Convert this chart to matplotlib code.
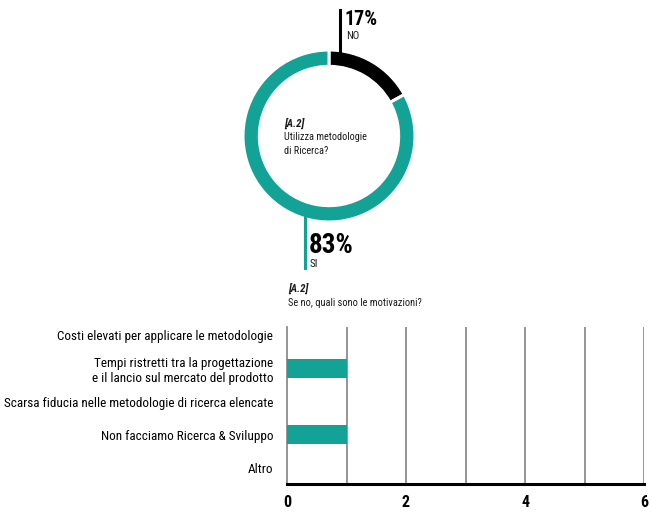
import matplotlib
matplotlib.use('Agg')
import matplotlib.pyplot as plt

plt.rcParams['font.family'] = ['Roboto Condensed', 'Archivo Narrow', 'PT Sans Narrow',
                               'Liberation Sans', 'DejaVu Sans']
plt.rcParams['text.color'] = '#1a1a1a'

TEAL = '#13a396'
W, H = 651, 512

# donut: uso di metodologie di ricerca
donut_labels = ['NO', 'SI']
donut_values = [17, 83]
donut_colors = ['#000000', TEAL]

# barre: motivazioni
reasons = ['Costi elevati per applicare le metodologie',
           'Tempi ristretti tra la progettazione\ne il lancio sul mercato del prodotto',
           'Scarsa fiducia nelle metodologie di ricerca elencate',
           'Non facciamo Ricerca & Sviluppo',
           'Altro']
counts = [0, 1, 0, 1, 0]
xticks = [0, 2, 4, 6]


def px_box(left, top, right, bottom):
    return [left / W, 1 - bottom / H, (right - left) / W, (bottom - top) / H]


fig = plt.figure(figsize=(W / 100, H / 100), dpi=100)
fig.patch.set_facecolor('white')

# Donut
ax1 = fig.add_axes(px_box(243, 50, 415, 222))
ax1.pie(donut_values, colors=donut_colors, startangle=90, counterclock=False,
        radius=1, wedgeprops=dict(width=0.19, edgecolor='white', linewidth=2.2))
ax1.set_xlim(-1, 1)
ax1.set_ylim(-1, 1)
ax1.set_aspect('equal')
ax1.axis('off')

# testo al centro
fig.text(284 / W, 1 - 127 / H, '[A.2]', fontsize=7.8, fontweight='bold',
         fontstyle='italic', va='baseline')
fig.text(284 / W, 1 - 140.5 / H, 'Utilizza metodologie', fontsize=7.4, va='baseline')
fig.text(284 / W, 1 - 154 / H, 'di Ricerca?', fontsize=7.4, va='baseline')

# linee guida e percentuali
fig.add_artist(plt.Line2D([339.5 / W, 339.5 / W], [1 - 10 / H, 1 - 52 / H],
                          color='black', linewidth=2.2))
fig.add_artist(plt.Line2D([304.5 / W, 304.5 / W], [1 - 217 / H, 1 - 268 / H],
                          color=TEAL, linewidth=2.2))
fig.text(345 / W, 1 - 25 / H, f'{donut_values[0]}%', fontsize=14.5, fontweight='bold',
         va='baseline', color='black')
fig.text(346 / W, 1 - 39 / H, donut_labels[0], fontsize=7.8, va='baseline')
fig.text(309 / W, 1 - 253 / H, f'{donut_values[1]}%', fontsize=19.5, fontweight='bold',
         va='baseline', color='black')
fig.text(310 / W, 1 - 267 / H, donut_labels[1], fontsize=8, va='baseline')

# Barre orizzontali
ax2 = fig.add_axes(px_box(287, 327, 644, 484))
ypos = list(range(len(reasons)))
ax2.barh(ypos, counts, height=0.58, color=TEAL, zorder=3)
ax2.set_xlim(0, 6)
ax2.set_ylim(4.48, -0.24)
ax2.set_yticks(ypos)
ax2.set_yticklabels(reasons, fontsize=9.5, linespacing=1.2)
ax2.set_xticks(xticks)
ax2.set_xticklabels([str(t) for t in xticks], fontsize=11.5, fontweight='bold',
                    color='black')
ax2.tick_params(axis='both', length=0)
ax2.tick_params(axis='x', pad=8)
ax2.tick_params(axis='y', pad=10)
for g in range(1, 7):
    ax2.axvline(g, color='#8c8c8c', linewidth=1.3, zorder=1)
for side in ['top', 'right']:
    ax2.spines[side].set_visible(False)
ax2.spines['left'].set_color('#8c8c8c')
ax2.spines['left'].set_linewidth(1.3)
ax2.spines['bottom'].set_linewidth(2.2)
ax2.spines['bottom'].set_zorder(4)

fig.text(288 / W, 1 - 292 / H, '[A.2]', fontsize=7.8, fontweight='bold',
         fontstyle='italic', va='baseline')
fig.text(288 / W, 1 - 306 / H, 'Se no, quali sono le motivazioni?', fontsize=7.5,
         va='baseline')

fig.savefig('out.png', dpi=100, facecolor='white')
